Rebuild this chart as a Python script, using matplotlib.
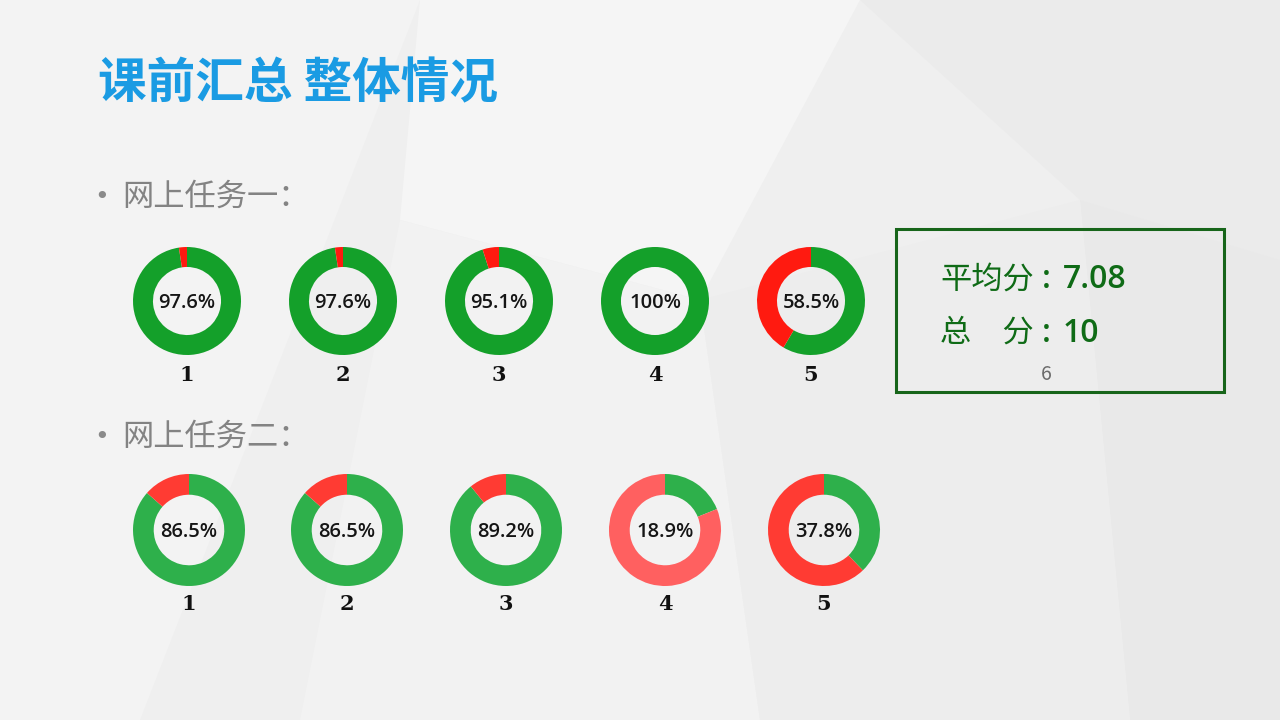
import matplotlib.pyplot as plt
from matplotlib.patches import Polygon, Rectangle

plt.rcParams['font.family'] = ['Noto Sans CJK SC', 'DejaVu Sans']

# data
title = "课前汇总 整体情况"
task_names = ["网上任务一：", "网上任务二："]
task_labels = ["1", "2", "3", "4", "5"]
task1_pct = [97.6, 97.6, 95.1, 100, 58.5]
task2_pct = [86.5, 86.5, 89.2, 18.9, 37.8]
task1_pct_text = ["97.6%", "97.6%", "95.1%", "100%", "58.5%"]
task2_pct_text = ["86.5%", "86.5%", "89.2%", "18.9%", "37.8%"]
score_names = ["平均分", "总　分"]
score_values = ["7.08", "10"]
page_no = "6"

W, H = 1280, 720
fig = plt.figure(figsize=(12.8, 7.2), dpi=100)
bg = fig.add_axes([0, 0, 1, 1])
bg.set_xlim(0, W)
bg.set_ylim(H, 0)
bg.axis("off")
bg.add_patch(Rectangle((0, 0), W, H, color="#efefef", zorder=0))

# faint background facets
facets = [
    ([(0, 0), (420, 0), (140, 720), (0, 720)], "#f3f3f3"),
    ([(420, 0), (860, 0), (700, 300), (400, 220)], "#f5f5f5"),
    ([(860, 0), (1280, 0), (1280, 260), (1080, 200)], "#ebebeb"),
    ([(400, 220), (700, 300), (760, 720), (300, 720)], "#f2f2f2"),
    ([(1080, 200), (1280, 260), (1280, 720), (1130, 720)], "#e9e9e9"),
    ([(700, 300), (1080, 200), (1130, 720), (760, 720)], "#ededed"),
]
for pts, c in facets:
    bg.add_patch(Polygon(pts, closed=True, color=c, zorder=0, lw=0))

# title and bullets
bg.text(98, 84, title, fontsize=35, color="#1a9be3", fontweight="bold",
        va="center", ha="left")
for name, y in zip(task_names, [197, 437]):
    bg.text(102, y, "•", fontsize=18, color="#8a8a8a", va="center",
            ha="center", family="DejaVu Sans")
    bg.text(122, y, name, fontsize=22.5, color="#838383", va="center")


def donut(cx, cy, r, pct, text, green, red, label, ly):
    ax = fig.add_axes([(cx - r) / W, 1 - (cy + r) / H, 2 * r / W, 2 * r / H])
    vals = [pct, 100 - pct]
    ax.pie(vals, colors=[green, red], startangle=90, counterclock=False,
           radius=1.0, wedgeprops=dict(width=0.37, linewidth=0))
    ax.set_xlim(-1, 1)
    ax.set_ylim(-1, 1)
    ax.set_aspect("equal")
    ax.axis("off")
    ax.text(0, -0.03, text, ha="center", va="center", fontsize=14.5,
            fontweight="semibold", color="#151515",
            family=["Open Sans", "DejaVu Sans"])
    bg.text(cx, ly, label, ha="center", va="center", fontsize=15,
            fontweight="bold", family="DejaVu Serif", color="#111111")


xs1 = [187, 343, 499, 655, 811]
xs2 = [189, 347, 506, 665, 824]
for i in range(5):
    donut(xs1[i], 301, 54, task1_pct[i], task1_pct_text[i],
          "#14a02a", "#ff1a10", task_labels[i], 375)
reds2 = ["#ff3b33", "#ff3b33", "#ff3b33", "#ff6060", "#ff3b33"]
for i in range(5):
    donut(xs2[i], 530, 56, task2_pct[i], task2_pct_text[i],
          "#2eb04b", reds2[i], task_labels[i], 604)

# score box
bg.add_patch(Rectangle((896, 229), 328, 163, fill=False,
                       edgecolor="#17651a", lw=2.2, zorder=3))
num_font = ["Open Sans", "DejaVu Sans"]
for name, val, y in zip(score_names, score_values, [280, 333]):
    bg.text(940, y, name, fontsize=22.5, color="#0f6b16",
            va="center", ha="left")
    bg.text(1046, y, ":", fontsize=23, color="#0f6b16", va="center",
            ha="center", fontweight="semibold", family=num_font)
    bg.text(1063, y, val, fontsize=23, color="#0f6b16", va="center",
            ha="left", fontweight="semibold", family=num_font)
bg.text(1046, 374, page_no, fontsize=14, color="#6b6b6b",
        va="center", ha="center")

fig.savefig("out.png", dpi=100)
